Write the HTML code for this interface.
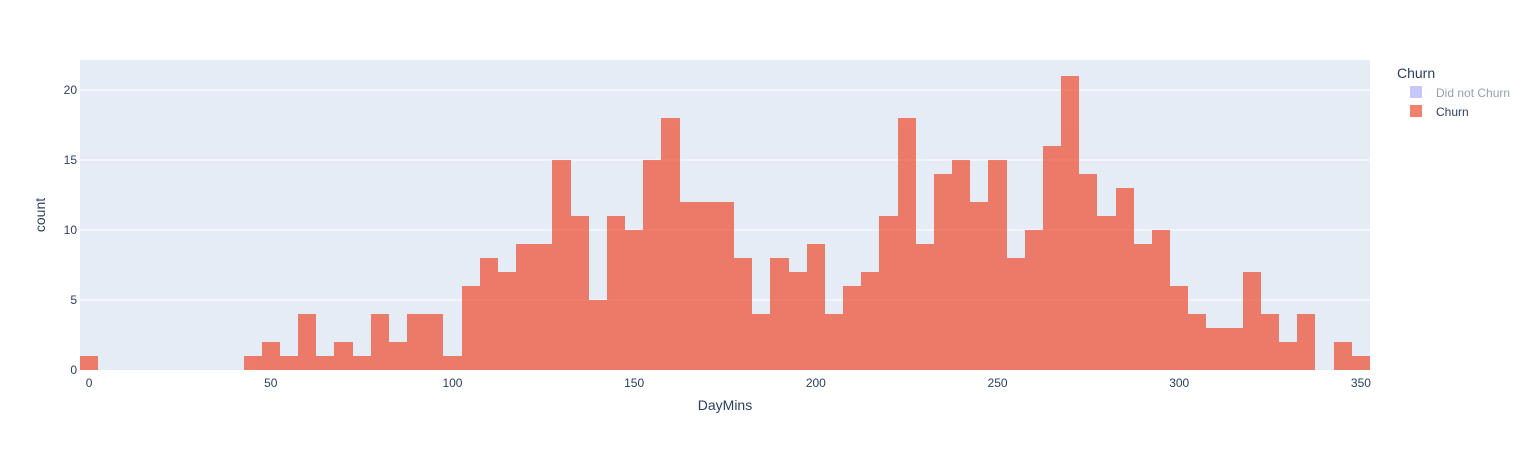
<!DOCTYPE html>
<html><head><meta charset="utf-8"><style>
body{margin:0;background:#fff;font-family:"Liberation Sans",Arial,sans-serif}
</style></head><body>
<svg id="chart" width="1538" height="450" xmlns="http://www.w3.org/2000/svg">
<rect x="80" y="60" width="1290" height="310" fill="#E5ECF6"/>
<g id="grid"></g>
<g id="bars" opacity="0.75" shape-rendering="crispEdges"></g>
<g id="xticks" font-size="12" fill="#2a3f5f" text-anchor="middle"></g>
<g id="yticks" font-size="12" fill="#2a3f5f" text-anchor="end"></g>
<text x="725" y="410" font-size="14" fill="#2a3f5f" text-anchor="middle">DayMins</text>
<text x="45" y="215" font-size="14" fill="#2a3f5f" text-anchor="middle" transform="rotate(-90 45 215)">count</text>
<text x="1397" y="78" font-size="14" fill="#2a3f5f">Churn</text>
<g opacity="0.5">
<rect x="1410" y="86" width="12" height="12" fill="#636EFA" opacity="0.75"/>
<text x="1436" y="97" font-size="12" fill="#2a3f5f">Did not Churn</text></g>
<g>
<rect x="1410" y="105" width="12" height="12" fill="#EF553B" opacity="0.75"/>
<text x="1436" y="116" font-size="12" fill="#2a3f5f">Churn</text></g>
</svg>
<script>
const binCenters = Array.from({length:71},(_,i)=>i*5);
const churnCounts = [1,0,0,0,0,0,0,0,0,1,2,1,4,1,2,1,4,2,4,4,1,6,8,7,9,9,15,11,5,11,10,15,18,12,12,12,8,4,8,7,9,4,6,7,11,18,9,14,15,12,15,8,10,16,21,14,11,13,9,10,6,4,3,3,7,4,2,4,0,2,1];
const xTicks = [0,50,100,150,200,250,300,350];
const yTicks = [0,5,10,15,20];
const binWidth = 5;
const NS="http://www.w3.org/2000/svg";
const X0=80,X1=1370,Y0=370,Y1=60,xmin=-2.5,xmax=352.5,ymax=22.14;
const xs=v=>X0+(v-xmin)/(xmax-xmin)*(X1-X0);
const ys=v=>Y0-v/ymax*(Y0-Y1);
const grid=document.getElementById('grid'),bars=document.getElementById('bars');
yTicks.forEach(t=>{
 if(t>0){const l=document.createElementNS(NS,'line');
 l.setAttribute('x1',X0);l.setAttribute('x2',X1);l.setAttribute('y1',ys(t));l.setAttribute('y2',ys(t));
 l.setAttribute('stroke','#fff');l.setAttribute('stroke-width','1');
 
 
 grid.appendChild(l);}
 const tx=document.createElementNS(NS,'text');
 tx.setAttribute('x',X0-3);tx.setAttribute('y',ys(t)+4);tx.textContent=t;
 
 
 document.getElementById('yticks').appendChild(tx);
});
xTicks.forEach(t=>{
 const tx=document.createElementNS(NS,'text');
 tx.setAttribute('x',xs(t));tx.setAttribute('y',Y0+17);tx.textContent=t;
 
 
 document.getElementById('xticks').appendChild(tx);
});
churnCounts.forEach((c,i)=>{
 if(!c)return;
 const r=document.createElementNS(NS,'rect');
 const a=Math.round(xs(binCenters[i]-binWidth/2)),b=Math.round(xs(binCenters[i]+binWidth/2));
 r.setAttribute('x',a);r.setAttribute('width',b-a);
 r.setAttribute('y',ys(c));r.setAttribute('height',Y0-ys(c));
 r.setAttribute('fill','#EF553B');
 
 
 bars.appendChild(r);
});
</script>
</body></html>
